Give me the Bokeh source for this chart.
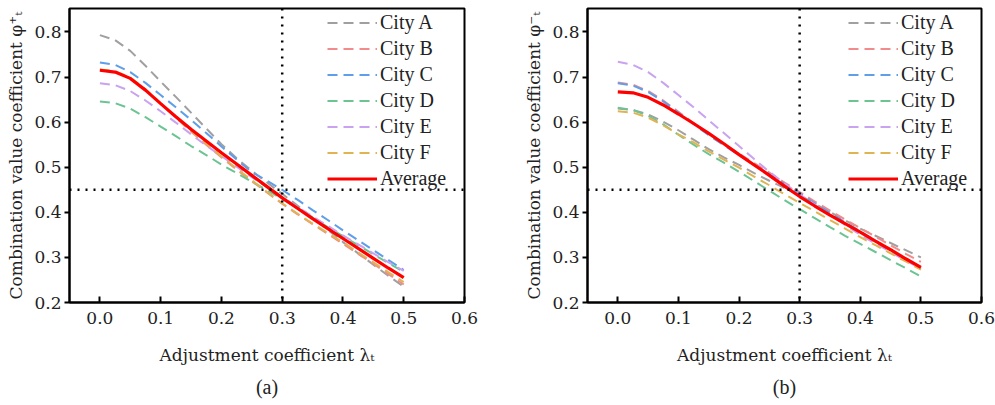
from bokeh.plotting import figure
from bokeh.layouts import row
from bokeh.models import Range1d, Span, FixedTicker, PrintfTickFormatter, Title
from bokeh.embed import file_html
from bokeh.resources import INLINE

# ---------------- data ----------------
lam = [0.000, 0.025, 0.050, 0.075, 0.100, 0.125, 0.150, 0.175, 0.200, 0.225, 0.250,
       0.275, 0.300, 0.325, 0.350, 0.375, 0.400, 0.425, 0.450, 0.475, 0.500]

series_names = ["City A", "City B", "City C", "City D", "City E", "City F"]

# panel (a): phi_T^+
a_city_A = [0.793, 0.782, 0.758, 0.725, 0.690, 0.656, 0.621, 0.586, 0.551, 0.520, 0.492,
            0.466, 0.441, 0.415, 0.388, 0.361, 0.334, 0.309, 0.284, 0.259, 0.235]
a_city_B = [0.716, 0.712, 0.698, 0.672, 0.641, 0.610, 0.579, 0.550, 0.522, 0.495, 0.469,
            0.444, 0.419, 0.396, 0.374, 0.352, 0.330, 0.308, 0.286, 0.263, 0.240]
a_city_C = [0.732, 0.727, 0.711, 0.687, 0.660, 0.633, 0.605, 0.576, 0.546, 0.517, 0.489,
            0.470, 0.450, 0.428, 0.405, 0.383, 0.360, 0.338, 0.316, 0.294, 0.272]
a_city_D = [0.646, 0.642, 0.630, 0.611, 0.590, 0.569, 0.547, 0.527, 0.506, 0.487, 0.468,
            0.449, 0.430, 0.409, 0.388, 0.367, 0.347, 0.327, 0.307, 0.287, 0.268]
a_city_E = [0.686, 0.682, 0.669, 0.648, 0.624, 0.599, 0.573, 0.548, 0.525, 0.501, 0.478,
            0.456, 0.434, 0.412, 0.391, 0.370, 0.349, 0.329, 0.309, 0.289, 0.270]
a_city_F = [0.717, 0.713, 0.699, 0.673, 0.642, 0.611, 0.581, 0.552, 0.524, 0.497, 0.471,
            0.445, 0.420, 0.397, 0.375, 0.354, 0.333, 0.311, 0.289, 0.267, 0.245]
a_average = [0.715, 0.711, 0.697, 0.671, 0.641, 0.612, 0.584, 0.558, 0.532, 0.507, 0.482,
             0.457, 0.432, 0.409, 0.386, 0.364, 0.342, 0.320, 0.298, 0.276, 0.255]

# panel (b): phi_T^-
b_city_A = [0.630, 0.627, 0.617, 0.601, 0.582, 0.561, 0.540, 0.522, 0.505, 0.487, 0.470,
            0.454, 0.438, 0.419, 0.401, 0.382, 0.364, 0.348, 0.332, 0.316, 0.300]
b_city_B = [0.688, 0.683, 0.669, 0.648, 0.623, 0.598, 0.573, 0.551, 0.530, 0.509, 0.488,
            0.466, 0.445, 0.424, 0.404, 0.384, 0.365, 0.346, 0.327, 0.308, 0.290]
b_city_C = [0.686, 0.681, 0.667, 0.646, 0.621, 0.596, 0.571, 0.549, 0.527, 0.506, 0.485,
            0.463, 0.442, 0.420, 0.399, 0.378, 0.358, 0.337, 0.316, 0.295, 0.275]
b_city_D = [0.632, 0.627, 0.614, 0.595, 0.572, 0.550, 0.529, 0.510, 0.490, 0.469, 0.448,
            0.427, 0.407, 0.387, 0.367, 0.348, 0.330, 0.312, 0.294, 0.276, 0.258]
b_city_E = [0.734, 0.727, 0.711, 0.687, 0.660, 0.633, 0.604, 0.576, 0.547, 0.518, 0.490,
            0.464, 0.440, 0.417, 0.394, 0.372, 0.350, 0.331, 0.312, 0.293, 0.275]
b_city_F = [0.624, 0.621, 0.610, 0.593, 0.573, 0.555, 0.535, 0.517, 0.499, 0.479, 0.460,
            0.440, 0.421, 0.402, 0.383, 0.364, 0.345, 0.327, 0.309, 0.291, 0.273]
b_average = [0.667, 0.665, 0.655, 0.638, 0.618, 0.597, 0.575, 0.552, 0.528, 0.505, 0.482,
             0.458, 0.435, 0.414, 0.394, 0.375, 0.356, 0.336, 0.317, 0.297, 0.278]

x_ticks = [0.0, 0.1, 0.2, 0.3, 0.4, 0.5, 0.6]
y_ticks = [0.2, 0.3, 0.4, 0.5, 0.6, 0.7, 0.8]
ref_lambda = 0.3
ref_value = 0.45
x_label = "Adjustment coefficient \u03bb\u209c"
y_label_a = "Combination value coefficient \u03c6\u207a\u209c"
y_label_b = "Combination value coefficient \u03c6\u207b\u209c"

colors = ["#a0a0a0", "#f28b8b", "#5f9ee8", "#6cc493", "#c9a2f0", "#e0b452"]
avg_color = "#ff0000"

FONT = "'Liberation Serif', 'Times New Roman', serif"
AXIS_FONT = "DejaVu Serif"
TXT = "#222222"


def style_axis(ax):
    ax.axis_line_width = 2
    ax.axis_line_color = "black"
    ax.major_tick_line_width = 2
    ax.major_tick_line_color = "black"
    ax.minor_tick_line_color = None
    ax.major_label_text_font = AXIS_FONT
    ax.major_label_text_font_size = "17px"
    ax.major_label_text_color = TXT
    ax.axis_label_text_font = AXIS_FONT
    ax.axis_label_text_font_size = "17px"
    ax.axis_label_text_font_style = "normal"
    ax.axis_label_text_color = TXT


def make_panel(city_series, avg, ylab, tag, width, left, right, legend_x):
    p = figure(width=width, height=405, output_backend="svg", toolbar_location=None,
               x_range=Range1d(-0.05, 0.6), y_range=Range1d(0.2, 0.852),
               min_border_left=left, min_border_right=right,
               min_border_top=8, min_border_bottom=103)
    p.xgrid.grid_line_color = None
    p.ygrid.grid_line_color = None
    p.outline_line_color = "black"
    p.outline_line_width = 2
    p.outline_line_alpha = 1.0
    p.background_fill_color = "white"
    p.border_fill_color = "white"

    p.xaxis.ticker = FixedTicker(ticks=x_ticks)
    p.yaxis.ticker = FixedTicker(ticks=y_ticks)
    p.xaxis.formatter = PrintfTickFormatter(format="%.1f")
    p.yaxis.formatter = PrintfTickFormatter(format="%.1f")
    style_axis(p.xaxis[0])
    style_axis(p.yaxis[0])
    p.xaxis.major_tick_in = 6
    p.xaxis.major_tick_out = 0
    p.xaxis.major_label_standoff = 9
    p.xaxis.axis_label_standoff = 18
    p.yaxis.major_tick_in = 0
    p.yaxis.major_tick_out = 5
    p.yaxis.major_label_standoff = 3
    p.yaxis.axis_label_standoff = 5
    p.xaxis.axis_label = x_label
    p.yaxis.axis_label = ylab

    p.add_layout(Span(location=ref_value, dimension="width", line_color="black",
                      line_width=2.5, line_dash="2 6"))
    p.add_layout(Span(location=ref_lambda, dimension="height", line_color="black",
                      line_width=2.5, line_dash="2 6"))

    for name, ys, c in zip(series_names, city_series, colors):
        p.line(lam, ys, line_color=c, line_width=2, line_dash="10 6", legend_label=name)
    p.line(lam, avg, line_color=avg_color, line_width=3.2, legend_label="Average")

    lg = p.legend[0]
    lg.location = (legend_x, 112)
    lg.border_line_color = None
    lg.background_fill_alpha = 0
    lg.label_text_font = FONT
    lg.label_text_font_size = "20px"
    lg.label_text_color = TXT
    lg.glyph_width = 50
    lg.glyph_height = 23
    lg.label_height = 23
    lg.label_standoff = 3
    lg.spacing = 3
    lg.padding = 0
    lg.margin = 0

    p.add_layout(Title(text=tag, align="center", text_font=FONT, text_font_size="20px",
                       text_font_style="normal", text_color=TXT, standoff=12), "below")
    return p


pa = make_panel([a_city_A, a_city_B, a_city_C, a_city_D, a_city_E, a_city_F], a_average,
                y_label_a, "(a)", 500, 69, 36, 258)
pb = make_panel([b_city_A, b_city_B, b_city_C, b_city_D, b_city_E, b_city_F], b_average,
                y_label_b, "(b)", 495, 87, 14, 261)

layout = row(pa, pb, spacing=0)
open("out.html", "w").write(file_html(layout, INLINE))
